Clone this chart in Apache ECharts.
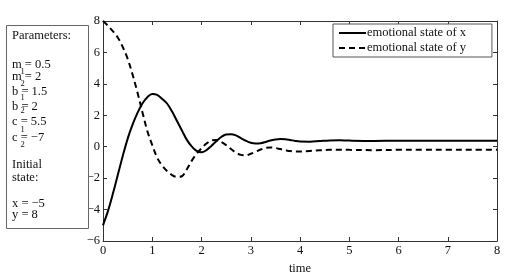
<!DOCTYPE html>
<html><head><meta charset="utf-8">
<script src="https://cdn.jsdelivr.net/npm/echarts@6/dist/echarts.min.js"></script>
<style>html,body{margin:0;padding:0;background:#fff}#c{width:508px;height:273px}</style>
</head><body><div id="c"></div>
<script>
// time samples
const time = [0,0.1,0.2,0.3,0.4,0.5,0.6,0.7,0.8,0.9,1.0,1.1,1.2,1.3,1.4,1.5,1.6,1.7,1.8,1.9,2.0,2.1,2.2,2.3,2.4,2.5,2.6,2.7,2.8,2.9,3.0,3.1,3.2,3.3,3.4,3.5,3.6,3.7,3.8,3.9,4.0,4.2,4.4,4.6,4.8,5.0,5.5,6.0,6.5,7.0,7.5,8.0];
// emotional state of x (solid)
const stateX = [-5,-4.1,-3.0,-1.8,-0.6,0.5,1.4,2.15,2.75,3.15,3.35,3.3,3.05,2.75,2.25,1.65,1.05,0.45,0.02,-0.27,-0.36,-0.22,0.05,0.35,0.62,0.78,0.8,0.72,0.55,0.38,0.25,0.2,0.22,0.3,0.4,0.46,0.49,0.48,0.43,0.37,0.33,0.32,0.36,0.4,0.41,0.39,0.37,0.38,0.38,0.38,0.38,0.38];
// emotional state of y (dashed)
const stateY = [8,7.7,7.35,6.95,6.35,5.6,4.6,3.45,2.2,1.0,0.1,-0.7,-1.2,-1.55,-1.8,-1.92,-1.88,-1.45,-0.9,-0.45,-0.1,0.2,0.4,0.43,0.3,0.1,-0.15,-0.38,-0.52,-0.55,-0.45,-0.32,-0.18,-0.08,-0.05,-0.08,-0.15,-0.22,-0.28,-0.3,-0.3,-0.27,-0.23,-0.2,-0.19,-0.2,-0.22,-0.2,-0.2,-0.2,-0.2,-0.2];
const seriesNames = ['emotional state of x','emotional state of y'];
const xTicks = {min:0, max:8, step:1};
const yTicks = {min:-6, max:8, step:2};
const axisName = 'time';
// parameter box text
const paramText = ['Parameters:','m = 0.5','m = 2','b = 1.5','b = 2','c = 5.5','c = \u22127','Initial','state:','x = \u22125','y = 8'];
const subText = ['1','2','1','2','1','2'];

const FONT = '"Liberation Serif","Times New Roman",serif';
const lineY = [36,65,77,92,107,122,138,165,178,204,215];
const subY = [72,84,98,111,130,145];

const graphics = [{
  type:'rect', shape:{x:6.5,y:25.5,width:82,height:203},
  style:{fill:'#fff',stroke:'#666',lineWidth:1}, z:10
}];
paramText.forEach((t,i)=>graphics.push({
  type:'text', x:12, y:lineY[i], z:11,
  style:{text:t, fill:'#111', fontSize:12.5, fontFamily:FONT, verticalAlign:'middle', align:'left'}
}));
subText.forEach((t,i)=>graphics.push({
  type:'text', x:20.5, y:subY[i], z:11,
  style:{text:t, fill:'#111', fontSize:8.5, fontFamily:FONT, verticalAlign:'middle', align:'left'}
}));

const minus = v => String(v).replace('-', '\u2212');
const axisCommon = {
  axisLine:{show:true, onZero:false, lineStyle:{color:'#333', width:1}},
  axisTick:{show:true, inside:true, length:4, lineStyle:{color:'#333'}},
  splitLine:{show:false}
};

const chart = echarts.init(document.getElementById('c'), null, {renderer:'canvas'});
chart.setOption({
  animation:false,
  backgroundColor:'#fff',
  grid:{left:103, right:11, top:21, bottom:32, containLabel:false, outerBoundsMode:'none'},
  xAxis:[
    Object.assign({type:'value', min:xTicks.min, max:xTicks.max, interval:xTicks.step, position:'bottom',
      name:axisName, nameLocation:'middle', nameGap:15,
      nameTextStyle:{color:'#111', fontSize:12.5, fontFamily:FONT},
      axisLabel:{margin:3, color:'#111', fontSize:12.5, fontFamily:FONT, formatter:minus}}, axisCommon),
    Object.assign({type:'value', min:xTicks.min, max:xTicks.max, interval:xTicks.step, position:'top',
      axisLabel:{show:false}}, axisCommon)
  ],
  yAxis:[
    Object.assign({type:'value', min:yTicks.min, max:yTicks.max, interval:yTicks.step, position:'left',
      axisLabel:{margin:3, color:'#111', fontSize:12.5, fontFamily:FONT, formatter:minus}}, axisCommon),
    Object.assign({type:'value', min:yTicks.min, max:yTicks.max, interval:yTicks.step, position:'right',
      axisLabel:{show:false}}, axisCommon)
  ],
  legend:{
    orient:'vertical', left:333, top:24,
    backgroundColor:'#fff', borderColor:'#555', borderWidth:1,
    padding:[2,26,2,5], itemGap:1, itemWidth:27, itemHeight:12,
    itemStyle:{color:'transparent', borderWidth:0, opacity:0},
    textStyle:{color:'#111', fontSize:12.5, fontFamily:FONT, lineHeight:14, padding:[0,0,0,-4]},
    data:seriesNames
  },
  graphic:graphics,
  series:[
    {name:seriesNames[0], type:'line', xAxisIndex:0, yAxisIndex:0, smooth:0.35, symbol:'none',
      lineStyle:{color:'#000', width:2, type:'solid'}, itemStyle:{color:'#000'},
      data:time.map((t,i)=>[t,stateX[i]])},
    {name:seriesNames[1], type:'line', xAxisIndex:0, yAxisIndex:0, smooth:0.35, symbol:'none',
      lineStyle:{color:'#000', width:2, type:[6,4]}, itemStyle:{color:'#000'},
      data:time.map((t,i)=>[t,stateY[i]])}
  ]
});
</script></body></html>
